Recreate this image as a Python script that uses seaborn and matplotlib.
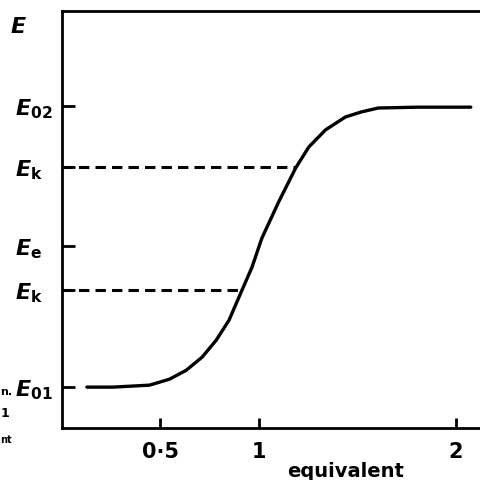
import pandas as pd
import matplotlib
matplotlib.use('Agg')
import matplotlib.pyplot as plt
import seaborn as sns

# Titration curve (x in equivalents, y relative E01=0, E02=1)
equivalents = [0.126, 0.258, 0.444, 0.545, 0.631, 0.712, 0.783, 0.848, 0.914,
               0.965, 1.015, 1.060, 1.101, 1.187, 1.253, 1.338, 1.439, 1.520,
               1.606, 1.808, 2.076]
potential = [0.000, 0.000, 0.007, 0.028, 0.060, 0.107, 0.167, 0.238, 0.345,
             0.427, 0.530, 0.598, 0.660, 0.780, 0.854, 0.915, 0.961, 0.979,
             0.993, 0.996, 0.996]

# y tick levels and their labels
y_levels = [0.0, 0.345, 0.502, 0.783, 1.0]
y_labels = [r'$E_{01}$', r'$E_{\mathrm{k}}$', r'$E_{\mathrm{e}}$', r'$E_{\mathrm{k}}$', r'$E_{02}$']

# dashed lines: level and where they meet the curve
dash_levels = [0.345, 0.783]
dash_ends = [0.914, 1.187]

x_ticks = [0.5, 1, 2]
x_labels = ['0·5', '1', '2']

sns.set_style('white')
plt.rcParams['font.family'] = ['DejaVu Sans']
plt.rcParams['text.color'] = 'black'
plt.rcParams['xtick.color'] = 'black'
plt.rcParams['ytick.color'] = 'black'
plt.rcParams['mathtext.fontset'] = 'custom'
plt.rcParams['mathtext.it'] = 'DejaVu Sans:bold:italic'
plt.rcParams['mathtext.rm'] = 'DejaVu Sans:bold'
plt.rcParams['mathtext.bf'] = 'DejaVu Sans:bold'

fig = plt.figure(figsize=(4.81, 4.8), dpi=100)
ax = fig.add_axes([0.129, 0.108, 0.88, 0.869])

df = pd.DataFrame({'x': equivalents, 'y': potential})
sns.lineplot(data=df, x='x', y='y', ax=ax, color='black', linewidth=2.4, sort=False)
ax.lines[0].set_solid_joinstyle('round')
ax.lines[0].set_solid_capstyle('round')

for lev, end in zip(dash_levels, dash_ends):
    ax.hlines(lev, 0, end, colors='black', linestyles=(0, (3.4, 2.0)), linewidth=2.2)

ax.set_xlim(0, 2.15)
ax.set_ylim(-0.146, 1.338)

ax.set_xticks(x_ticks)
ax.set_xticklabels(x_labels, fontsize=15, fontweight='bold')
ax.set_yticks(y_levels)
ax.set_yticklabels(y_labels, fontsize=16)
for lab in ax.get_yticklabels():
    lab.set_horizontalalignment('left')

ax.tick_params(axis='x', bottom=True, direction='in', length=7, width=2, pad=10)
ax.tick_params(axis='y', left=True, direction='in', length=9, width=2, pad=34)
ax.set_xlabel('')
ax.set_ylabel('')

for side in ['left', 'bottom', 'top']:
    ax.spines[side].set_linewidth(2)
    ax.spines[side].set_color('black')
ax.spines['right'].set_visible(False)

fig.text(0.021, 0.944, r'$E$', fontsize=16, ha='left', va='center')
fig.text(0.718, 0.017, 'equivalent', fontsize=14, fontweight='bold', ha='center', va='center')

# caption fragments at the left edge (cut off in the scan)
fig.text(0.001, 0.183, 'n.', fontsize=8, fontweight='bold', ha='left', va='center')
fig.text(0.002, 0.138, '1', fontsize=9, fontweight='bold', ha='left', va='center')
fig.text(0.001, 0.083, 'nt', fontsize=7, fontweight='bold', ha='left', va='center')

fig.savefig('out.png', dpi=100)
